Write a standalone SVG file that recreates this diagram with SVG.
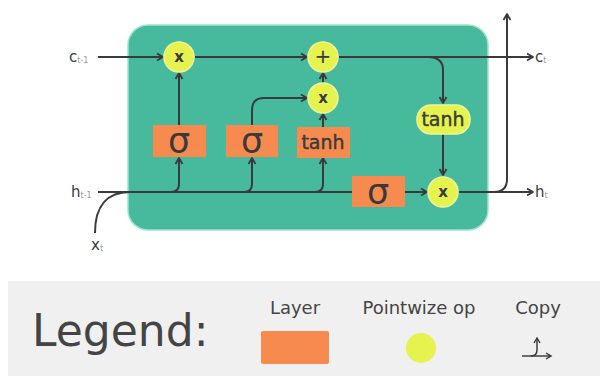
<svg xmlns="http://www.w3.org/2000/svg" width="600" height="376" viewBox="0 0 600 376">
<defs>
<marker id="arr" markerUnits="userSpaceOnUse" markerWidth="10" markerHeight="10" refX="8" refY="5" orient="auto">
<path d="M2,1.5 L8,5 L2,8.5" fill="none" stroke="#3a3a3a" stroke-width="1.8" stroke-linejoin="round"/>
</marker>
<marker id="arrs" markerUnits="userSpaceOnUse" markerWidth="10" markerHeight="10" refX="8" refY="5" orient="auto">
<path d="M3,2 L8,5 L3,8" fill="none" stroke="#333" stroke-width="1.4"/>
</marker>
<style>
.ln{fill:none;stroke:#3a3a3a;stroke-width:2}
.la{fill:none;stroke:#3a3a3a;stroke-width:2;marker-end:url(#arr)}
.layer{fill:#f68a4f}
.pw{fill:#e6f24e;stroke:#eef79a;stroke-width:1.5}
.sig{font-family:"DejaVu Sans",sans-serif;font-size:35px;fill:#3a3a3a;text-anchor:middle}
.op{font-family:"DejaVu Sans",sans-serif;font-size:15px;font-weight:bold;fill:#3a3a3a;text-anchor:middle}
.tn{font-family:"DejaVu Sans",sans-serif;font-size:19px;fill:#3a3a3a;stroke:#3a3a3a;stroke-width:0.4;text-anchor:middle}
.lab{font-family:"DejaVu Sans",sans-serif;font-size:15px;fill:#3a3a3a}
.sub{font-size:8px;fill:#999;stroke:none}
.leg{font-family:"DejaVu Sans",sans-serif;font-size:18px;fill:#444;text-anchor:middle}
</style>
</defs>
<rect x="0" y="0" width="600" height="376" fill="#ffffff"/>
<g id="cell">
<rect x="128" y="25" width="360" height="205" rx="20" fill="#47b99c" stroke="#9ee3cc" stroke-width="1.5"/>
</g>
<g id="connectors">
<path class="la" d="M98,57 H163"/>
<path class="la" d="M195,57 H307"/>
<path class="la" d="M339,57 H533"/>
<path class="la" d="M428,57 Q443,57 443,70 V103"/>
<path class="la" d="M443,134 V175"/>
<path class="la" d="M459,192 H533"/>
<path class="la" d="M494,192 Q507,192 507,179 V14"/>
<path class="ln" d="M98,192 H352"/>
<path class="ln" d="M95,233 C95,205 108,192 130,192"/>
<path class="la" d="M171,192 Q179,192 179,184 V158"/>
<path class="la" d="M244,192 Q252,192 252,184 V158"/>
<path class="la" d="M315,192 Q323,192 323,184 V158"/>
<path class="la" d="M179,125 V73"/>
<path class="la" d="M252,125 V110 Q252,98 264,98 H307"/>
<path class="la" d="M323,127 V114"/>
<path class="la" d="M323,83 V73"/>
<path class="la" d="M405,192 H427"/>
</g>
<g id="forget-mul"><circle class="pw" cx="179" cy="57" r="15"/><text class="op" x="179" y="62">x</text></g>
<g id="add"><circle class="pw" cx="323" cy="57" r="15"/><text class="op" x="323" y="63" style="font-size:20px;font-weight:normal">+</text></g>
<g id="input-mul"><circle class="pw" cx="323" cy="98" r="15"/><text class="op" x="323" y="103">x</text></g>
<g id="out-mul"><circle class="pw" cx="443" cy="192" r="15"/><text class="op" x="443" y="197">x</text></g>
<g id="tanh-op"><rect class="pw" x="417" y="105" width="53" height="29" rx="14"/><text class="tn" x="443" y="126">tanh</text></g>
<g id="sigma-forget"><rect class="layer" x="153" y="125" width="53" height="32"/><text class="sig" x="179" y="153">σ</text></g>
<g id="sigma-input"><rect class="layer" x="226" y="125" width="52" height="32"/><text class="sig" x="252" y="153">σ</text></g>
<g id="tanh-layer"><rect class="layer" x="297" y="127" width="53" height="31"/><text class="tn" x="323" y="149">tanh</text></g>
<g id="sigma-output"><rect class="layer" x="352" y="176" width="53" height="31"/><text class="sig" x="378" y="204">σ</text></g>
<g id="labels">
<text class="lab" x="69" y="62">c<tspan class="sub" dy="1">t-1</tspan></text>
<text class="lab" x="71" y="197">h<tspan class="sub" dy="1">t-1</tspan></text>
<text class="lab" x="91" y="250">x<tspan class="sub" dy="1">t</tspan></text>
<text class="lab" x="535" y="62">c<tspan class="sub" dy="1">t</tspan></text>
<text class="lab" x="535" y="197">h<tspan class="sub" dy="1">t</tspan></text>
</g>
<g id="legend">
<rect x="8" y="281" width="600" height="100" fill="#f0f0f0"/>
<text x="32" y="346" font-family="DejaVu Sans, sans-serif" font-size="44" fill="#444">Legend:</text>
<text class="leg" x="295" y="314">Layer</text>
<rect class="layer" x="261" y="331" width="68" height="33" rx="2"/>
<text class="leg" x="419" y="314">Pointwize op</text>
<circle cx="421" cy="348" r="15" fill="#e6f24e"/>
<text class="leg" x="538" y="314">Copy</text>
<path d="M522,356 H551" fill="none" stroke="#333" stroke-width="1.4" marker-end="url(#arrs)"/>
<path d="M531,356 Q537,356 537,350 V338" fill="none" stroke="#333" stroke-width="1.4" marker-end="url(#arrs)"/>
</g>
</svg>
